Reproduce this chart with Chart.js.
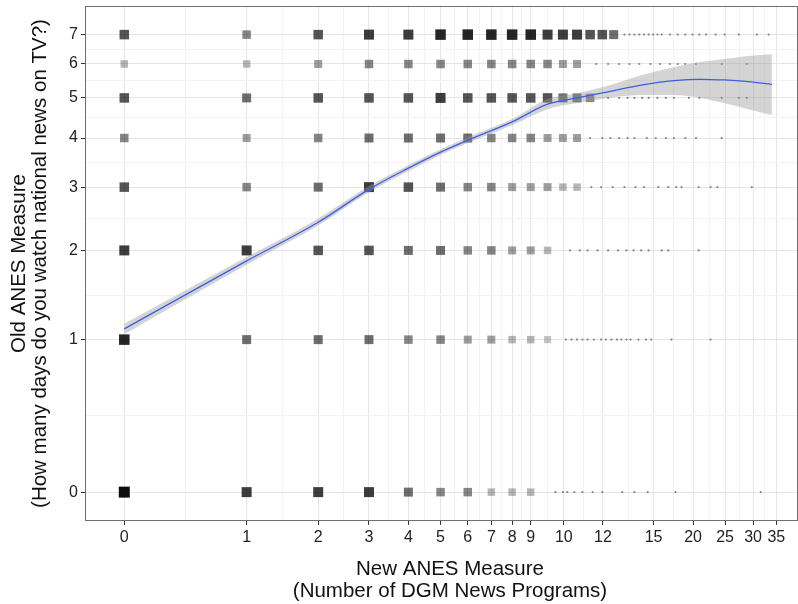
<!DOCTYPE html>
<html>
<head>
<meta charset="utf-8">
<script src="https://cdn.jsdelivr.net/npm/chart.js@4.4.1/dist/chart.umd.min.js"></script>
<style>
  html, body { margin: 0; padding: 0; background: #fff; overflow: hidden; }
  #wrap { width: 798px; height: 604px; position: relative; }
  #wrap canvas { display: block; }
</style>
</head>
<body>
<div id="wrap"><canvas id="anesChart"></canvas></div>
<script>
// axis breaks (raw units on a log(x+1) axis) and their labels
const xTickAt = [0, 1, 2, 3, 4, 5, 6, 7, 8, 9, 11.06, 14.05, 19.06, 24.08, 29.08, 34.25, 39.2];
const xTickLabels = ['0', '1', '2', '3', '4', '5', '6', '7', '8', '9', '10', '12', '15', '20', '25', '30', '35'];
const yTickAt = [0, 1, 2, 3, 4, 5, 6, 7];
const yTickLabels = ['0', '1', '2', '3', '4', '5', '6', '7'];
const xTitle = ['New ANES Measure', '(Number of DGM News Programs)'];
const yTitle = ['Old ANES Measure', '(How many days do you watch national news on TV?)'];

// darkness of the jittered cluster at x = 0, 1, 2, ... for each answer (row)
const density0 = [5, 4, 4, 4, 3, 2.5, 2.5, 1.5, 1.5, 1.5];
const density1 = [4.5, 3, 3, 3, 2.5, 2.5, 2, 2, 1.5, 1.5, 1.2];
const density2 = [4, 4, 3.5, 3.5, 3, 3, 2.5, 2.5, 2, 2, 1.5];
const density3 = [3.5, 2.5, 3, 4, 3.5, 3, 2.5, 2.5, 2, 2, 2, 1.5, 1.5];
const density4 = [2.5, 2, 2.5, 3, 3, 3, 3, 2.5, 2.5, 2.5, 2, 2, 2];
const density5 = [3.5, 3, 3.5, 3.5, 3.5, 4, 3.5, 3.5, 3.5, 3.5, 3.5, 3, 3, 2.5];
const density6 = [1.5, 1.5, 2, 2.5, 2.5, 2.5, 2.5, 2.5, 2.5, 2.5, 2.5, 2, 2];
const density7 = [3.5, 2.5, 3.5, 4, 4, 4.5, 4.5, 4.5, 4.5, 4.5, 4, 4, 4, 3.5, 3.5, 3];

// single respondents further right on each row
const sparse0 = [10.5, 11, 11.3, 11.8, 12.4, 13.2, 14, 15.8, 17, 18.4, 21.7, 35.8];
const sparse1 = [11.2, 11.6, 12, 12.4, 12.8, 13.3, 13.9, 14.3, 14.8, 15.3, 15.7, 16.2, 16.6, 17.4, 18.2, 18.8, 21.2, 26.7];
const sparse2 = [11.5, 12.2, 12.8, 13.6, 14.5, 15.4, 16.2, 16.9, 17.7, 18.5, 20, 20.8, 24.9];
const sparse3 = [13.1, 13.9, 14.9, 16, 17.1, 18, 19.6, 20.8, 21.8, 22.5, 24.9, 26.7, 27.8, 34];
const sparse4 = [13, 14, 14.7, 15.5, 16.3, 17, 18.3, 19.3, 20.5, 21.5, 23, 24.5, 28.5];
const sparse5 = [14.5, 15.5, 16.3, 17, 17.8, 18.5, 19.5, 20.5, 21.5, 23.5, 25, 28.5, 31.5, 33];
const sparse6 = [13.5, 14.5, 15.5, 16.5, 17.5, 18.7, 19.8, 21, 22, 23, 24.5, 28.5, 33];
const sparse7 = [16, 16.5, 17, 17.5, 18, 18.5, 19, 19.5, 20, 21, 22, 23, 24, 25, 26, 27.5, 29, 31.5, 35, 37.5];

// loess fit with its confidence band
const fitX = [0, 1, 2, 3, 4, 5, 6, 8, 10, 12, 14.5, 17.7, 21.5, 25.2, 28.9, 33.3, 38.2];
const fitY = [1.10, 1.86, 2.41, 2.96, 3.36, 3.69, 3.95, 4.38, 4.83, 5.00, 5.17, 5.36, 5.49, 5.53, 5.51, 5.46, 5.38];
const fitLo = [1.05, 1.81, 2.36, 2.91, 3.30, 3.63, 3.89, 4.30, 4.70, 4.86, 5.00, 5.08, 5.08, 5.00, 4.86, 4.70, 4.55];
const fitHi = [1.15, 1.91, 2.47, 3.02, 3.42, 3.75, 4.02, 4.45, 4.97, 5.13, 5.34, 5.65, 5.90, 6.06, 6.16, 6.26, 6.32];

const tr = v => Math.log(v + 1);

const densities = [density0, density1, density2, density3, density4, density5, density6, density7];
const sparses = [sparse0, sparse1, sparse2, sparse3, sparse4, sparse5, sparse6, sparse7];

const clusterPts = [];
densities.forEach((row, y) => row.forEach((d, x) => clusterPts.push({ x: tr(x), y: tr(y), d: d })));
const sparsePts = [];
sparses.forEach((row, y) => row.forEach(x => sparsePts.push({ x: tr(x), y: tr(y) })));

const toLine = ys => fitX.map((x, i) => ({ x: tr(x), y: tr(ys[i]) }));

// major ticks plus minor ticks halfway between them (transformed space)
function buildTicks(at, labels) {
  const out = [];
  at.forEach((v, i) => {
    out.push({ value: tr(v), txt: labels[i], minor: false });
    if (i < at.length - 1) out.push({ value: (tr(v) + tr(at[i + 1])) / 2, txt: '', minor: true });
  });
  return out;
}
const xTicks = buildTicks(xTickAt, xTickLabels);
const yTicks = buildTicks(yTickAt, yTickLabels);

const FONT = 'Liberation Sans, Arial, sans-serif';

const panelBorder = {
  id: 'panelBorder',
  afterDatasetsDraw(chart) {
    const { ctx, chartArea: a } = chart;
    ctx.save();
    ctx.strokeStyle = '#6e6e6e';
    ctx.lineWidth = 1;
    ctx.strokeRect(Math.round(a.left) - 0.5, Math.round(a.top) - 0.5,
      Math.round(a.right - a.left) + 1, Math.round(a.bottom - a.top) + 1);
    ctx.restore();
  }
};

// axis titles, two lines each
const axisTitles = {
  id: 'axisTitles',
  afterDraw(chart) {
    const { ctx, chartArea: a } = chart;
    ctx.save();
    ctx.fillStyle = '#111';
    ctx.font = '20.5px ' + FONT;
    ctx.textAlign = 'center';
    ctx.textBaseline = 'middle';
    xTitle.forEach((t, i) => ctx.fillText(t, 450, 569 + i * 22));
    const cy = (a.top + a.bottom) / 2;
    yTitle.forEach((t, i) => {
      ctx.save();
      ctx.translate(19 + i * 21, cy);
      ctx.rotate(-Math.PI / 2);
      ctx.fillText(t, 0, 0);
      ctx.restore();
    });
    ctx.restore();
  }
};

const gridColor = c => (c.tick && c.tick.minor) ? '#f3f3f3' : '#e6e6e6';
const tickColor = c => (c.tick && c.tick.minor) ? 'rgba(0,0,0,0)' : '#333333';
const tickFont = { family: FONT, size: 16 };

const ctx = document.getElementById('anesChart').getContext('2d');
new Chart(ctx, {
  type: 'scatter',
  data: {
    datasets: [
      {
        type: 'line', data: toLine(fitY), borderColor: '#3a5ee8', borderWidth: 1.3,
        pointRadius: 0, fill: false, cubicInterpolationMode: 'monotone', order: 0
      },
      {
        type: 'line', data: toLine(fitHi), borderWidth: 0, pointRadius: 0,
        backgroundColor: 'rgba(153,153,153,0.42)', fill: '+1', cubicInterpolationMode: 'monotone', order: 1
      },
      {
        type: 'line', data: toLine(fitLo), borderWidth: 0, pointRadius: 0,
        fill: false, cubicInterpolationMode: 'monotone', order: 2
      },
      {
        data: clusterPts, pointStyle: 'rect', borderWidth: 0, order: 3,
        pointRadius: c => (6 + c.raw.d) / Math.SQRT2,
        backgroundColor: c => 'rgba(0,0,0,' + Math.min(0.95, c.raw.d * 0.19) + ')'
      },
      {
        data: sparsePts, pointRadius: 1.1, borderWidth: 0, order: 4,
        backgroundColor: 'rgba(0,0,0,0.45)'
      }
    ]
  },
  options: {
    responsive: true,
    maintainAspectRatio: false,
    animation: false,
    layout: { autoPadding: false, padding: { top: 7, right: 1, left: 0, bottom: 0 } },
    plugins: { legend: { display: false }, tooltip: { enabled: false } },
    scales: {
      x: {
        type: 'linear', min: tr(-0.195), max: tr(44.2),
        afterBuildTicks: s => { s.ticks = xTicks.map(t => Object.assign({}, t)); },
        afterFit: s => { s.height = 84; s.paddingLeft = 0; s.paddingRight = 0; },
        ticks: {
          autoSkip: false, maxRotation: 0, padding: 3, color: '#222', font: tickFont,
          callback: (v, i, ticks) => ticks[i].txt
        },
        grid: { color: gridColor, tickColor: tickColor, tickLength: 5, lineWidth: 1 },
        border: { display: false }
      },
      y: {
        type: 'linear', min: tr(-0.119), max: tr(8.07),
        afterBuildTicks: s => { s.ticks = yTicks.map(t => Object.assign({}, t)); },
        afterFit: s => { s.width = 86; s.paddingTop = 0; s.paddingBottom = 0; },
        ticks: {
          autoSkip: false, padding: 3, color: '#222', font: tickFont,
          callback: (v, i, ticks) => ticks[i].txt
        },
        grid: { color: gridColor, tickColor: tickColor, tickLength: 5, lineWidth: 1 },
        border: { display: false }
      }
    }
  },
  plugins: [panelBorder, axisTitles]
});
</script>
</body>
</html>
